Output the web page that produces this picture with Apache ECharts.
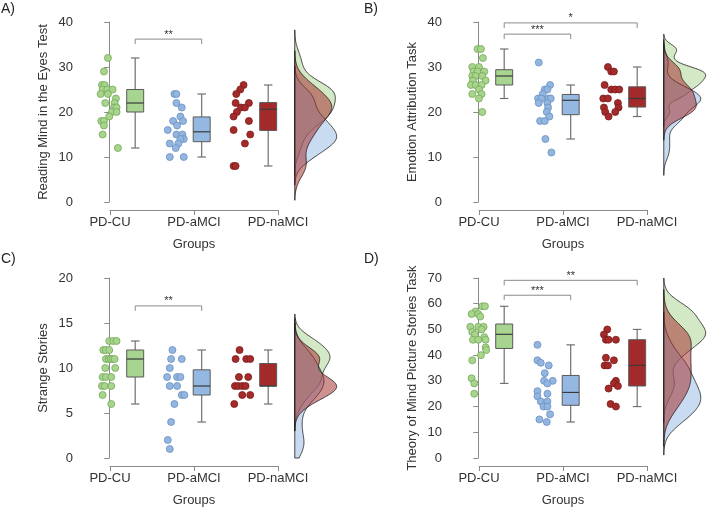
<!DOCTYPE html>
<html>
<head>
<meta charset="utf-8">
<script src="https://cdn.jsdelivr.net/npm/echarts@6/dist/echarts.min.js"></script>
<style>
  html, body { margin: 0; padding: 0; background: #fff; }
  #chart { width: 708px; height: 511px; }
</style>
</head>
<body>
<div id="chart"></div>
<script>
// groups on the x axis
const groups = ['PD-CU', 'PD-aMCI', 'PD-naMCI'];

// individual scores as [value, horizontal jitter]
const rmetCU = [[32,-0.02],[29,-0.08],[26,-0.11],[26,-0.07],[25,-0.10],[25,-0.03],[25,0.05],[24,-0.13],[24,-0.02],[23,0.10],[22,-0.06],[22,0.08],[21,0.07],[21,0.11],[20,0.04],[20,0.11],[19,0.00],[18,-0.12],[18,-0.08],[17,-0.08],[15,-0.10],[12,0.13]];
const rmetAM = [[24,-0.02],[24,0.01],[22,0.01],[21,0.09],[19,0.07],[18,-0.04],[18,0.11],[17,0.02],[16,-0.12],[15,0.01],[15,0.10],[14,0.12],[14,0.07],[13,-0.09],[13,0.04],[12,0.00],[10,-0.09],[10,0.12]];
const rmetNA = [[26,0.02],[25,-0.03],[24,-0.09],[22,-0.10],[22,0.10],[21,-0.02],[21,0.04],[20,-0.08],[19,-0.13],[18,0.10],[16,-0.13],[15,0.12],[13,0.04],[8,-0.13],[8,-0.10]];

const eatCU = [[34,-0.01],[34,0.04],[32,0.07],[30,-0.09],[30,0.01],[29,-0.07],[29,-0.01],[29,0.09],[28,-0.09],[28,-0.04],[28,0.06],[27,-0.08],[27,0.11],[26,-0.11],[26,-0.04],[26,0.05],[25,0.01],[24,-0.09],[24,0.05],[23,0.01],[20,0.06]];
const eatAM = [[31,-0.09],[26,0.08],[25,0.00],[25,0.04],[24,-0.03],[23,-0.10],[23,-0.05],[23,0.06],[23,0.09],[22,-0.09],[22,0.04],[21,0.05],[20,0.03],[19,0.07],[18,-0.07],[18,0.00],[14,0.01],[11,0.10]];
const eatNA = [[30,-0.05],[29,0.00],[29,0.04],[26,-0.10],[25,0.00],[25,0.06],[25,0.12],[23,-0.12],[23,-0.05],[22,0.10],[21,-0.11],[21,0.11],[20,-0.09],[20,0.06],[19,-0.04]];

const ssCU = [[13,0.00],[13,0.06],[13,0.11],[12,-0.09],[12,-0.05],[12,0.00],[11,-0.05],[11,-0.01],[11,0.02],[11,0.05],[11,0.08],[10,-0.06],[10,0.09],[9,-0.10],[9,-0.05],[9,0.03],[8,-0.11],[8,-0.07],[8,0.03],[7,-0.10],[6,0.03]];
const ssAM = [[12,-0.05],[11,-0.07],[11,0.09],[10,-0.09],[9,-0.13],[9,0.02],[9,0.07],[8,-0.09],[8,0.02],[7,0.09],[7,0.13],[6,-0.02],[4,-0.07],[2,-0.12],[1,-0.09]];
const ssNA = [[12,-0.04],[11,-0.10],[11,0.06],[11,0.12],[9,-0.05],[9,0.09],[8,-0.11],[8,-0.06],[8,0.00],[8,0.05],[7,0.00],[7,0.12],[6,-0.12]];

const tomCU = [[59,0.06],[59,0.10],[57,-0.04],[56,-0.10],[56,0.00],[55,0.03],[51,-0.12],[51,0.00],[51,0.08],[50,0.05],[49,-0.09],[48,-0.05],[47,0.09],[46,-0.08],[46,0.00],[46,0.11],[43,0.11],[42,0.12],[40,0.04],[38,-0.09],[31,-0.10],[29,-0.06],[25,-0.06]];
const tomAM = [[44,-0.11],[38,-0.11],[37,-0.06],[36,0.06],[33,0.00],[30,-0.01],[30,0.12],[29,0.04],[26,-0.11],[25,0.04],[24,-0.11],[22,-0.06],[22,0.04],[20,-0.02],[20,0.04],[17,0.08],[15,-0.08],[14,0.03]];
const tomNA = [[50,-0.06],[48,-0.11],[46,-0.08],[46,-0.04],[46,0.07],[39,-0.08],[38,0.04],[36,-0.10],[36,-0.05],[30,0.07],[29,0.04],[28,0.10],[27,-0.04],[21,-0.01],[20,0.07]];

// box stats [min, q1, median, q3, max]
const rmetBox = [[12,20,22,25,32],[10,13.4,15.6,18.9,24],[8,15.9,20.6,22.1,26]];
const eatBox = [[23,26,28,29.4,34],[14,19.4,22.6,23.9,26],[19,21.1,23,25.6,30]];
const ssBox = [[6,9,11,12,13],[4,7,8,9.8,12],[6,8,8,10.5,12]];
const tomBox = [[29,42.6,48.1,52.1,59],[14,20.5,25.5,32.1,44],[20,28,36,46,50]];

// significance brackets [fromGroup, toGroup, y, label]
const rmetSig = [[0,1,36.2,'**']];
const eatSig = [[0,1,37.3,'***'],[0,2,39.8,'*']];
const ssSig = [[0,1,16.9,'**']];
const tomSig = [[0,1,63.3,'***'],[0,2,69.1,'**']];

// y axes
const yNames = ['Reading Mind in the Eyes Test', 'Emotion Attribution Task', 'Strange Stories', 'Theory of Mind Picture Stories Task'];
const yMax = [40, 40, 20, 70];
const yStep = [10, 10, 5, 10];
const letters = ['A)', 'B)', 'C)', 'D)'];

const pointFill = ['#a8d48c', '#92b6e0', '#a52a2a'];
const pointLine = ['#74a95a', '#6b90c2', '#7c1c1c'];
const boxFill = ['#a7d48e', '#94b8e2', '#a32a2a'];
const densFill = ['rgba(167,212,142,0.5)', 'rgba(148,184,226,0.5)', 'rgba(163,42,42,0.52)'];

const FONT = 'Liberation Sans, Arial, sans-serif';
const TXT = '#333';
const AX = '#8a8a8a';

const BOX_OFF = 0.39, BOX_W = 0.255;
const DENS_BASE = 2.79, DENS_W = 0.63;

const panels = [
  {pts: [rmetCU, rmetAM, rmetNA], box: rmetBox, sig: rmetSig, left: 82, top: 22, tagX: 1, tagY: 2},
  {pts: [eatCU, eatAM, eatNA], box: eatBox, sig: eatSig, left: 451, top: 22, tagX: 364, tagY: 2},
  {pts: [ssCU, ssAM, ssNA], box: ssBox, sig: ssSig, left: 82, top: 278, tagX: 1, tagY: 252},
  {pts: [tomCU, tomAM, tomNA], box: tomBox, sig: tomSig, left: 451, top: 278, tagX: 364, tagY: 252}
];

function quant(s, p) {
  const h = (s.length - 1) * p, lo = Math.floor(h);
  const hi = Math.min(lo + 1, s.length - 1);
  return s[lo] + (h - lo) * (s[hi] - s[lo]);
}

// gaussian kernel density, R's default bandwidth (nrd0) and cut = 3
function density(vals, top) {
  const n = vals.length;
  const s = vals.slice().sort((a, b) => a - b);
  const mean = s.reduce((a, b) => a + b, 0) / n;
  const sd = Math.sqrt(s.reduce((a, b) => a + (b - mean) * (b - mean), 0) / (n - 1));
  const iqr = quant(s, 0.75) - quant(s, 0.25);
  const bw = 0.9 * Math.min(sd, iqr / 1.34) * Math.pow(n, -0.2);
  const lo = Math.max(0, s[0] - 3 * bw), hi = Math.min(top, s[n - 1] + 3 * bw);
  const out = [];
  for (let i = 0; i <= 160; i++) {
    const y = lo + (hi - lo) * i / 160;
    let d = 0;
    for (const v of s) { const z = (y - v) / bw; d += Math.exp(-0.5 * z * z); }
    out.push([y, d / (n * bw * Math.sqrt(2 * Math.PI))]);
  }
  return out;
}

const option = {
  animation: false,
  textStyle: {fontFamily: FONT},
  title: [], grid: [], xAxis: [], yAxis: [], series: []
};

panels.forEach((p, k) => {
  const gi = 2 * k;
  option.title.push({
    text: letters[k], left: p.tagX, top: p.tagY, padding: 0,
    textStyle: {fontSize: 14, fontWeight: 'normal', color: '#222', fontFamily: FONT}
  });
  option.grid.push({left: p.left, top: p.top, width: 256, height: 180});
  option.grid.push({left: p.left + 28, top: p.top + 187, width: 168, height: 1});

  option.xAxis.push({gridIndex: gi, type: 'value', min: -0.41, max: 3.44, show: false});
  option.xAxis.push({
    gridIndex: gi + 1, type: 'value', min: 0, max: 2, interval: 1,
    axisLine: {show: true, lineStyle: {color: AX, width: 1}},
    axisTick: {show: true, length: 5, lineStyle: {color: AX}},
    splitLine: {show: false},
    axisLabel: {formatter: v => groups[v], margin: 6, fontSize: 13, color: TXT, fontFamily: FONT},
    name: 'Groups', nameLocation: 'middle', nameGap: 28,
    nameTextStyle: {fontSize: 13, color: TXT, fontFamily: FONT}
  });
  option.yAxis.push({
    gridIndex: gi, type: 'value', min: 0, max: yMax[k], interval: yStep[k],
    axisLine: {show: true, lineStyle: {color: AX, width: 1}},
    axisTick: {show: true, length: 5, lineStyle: {color: AX}},
    splitLine: {show: false},
    axisLabel: {margin: 9, fontSize: 13, color: TXT, fontFamily: FONT},
    name: yNames[k], nameLocation: 'middle', nameGap: 32,
    nameTextStyle: {fontSize: 13, color: TXT, fontFamily: FONT}
  });
  option.yAxis.push({gridIndex: gi + 1, type: 'value', min: 0, max: 1, show: false});

  // densities (half violins on the right)
  const curves = p.pts.map(g => density(g.map(d => d[0]), yMax[k]));
  const peak = Math.max(...curves.map(c => Math.max(...c.map(d => d[1]))));
  option.series.push({
    type: 'custom', xAxisIndex: gi, yAxisIndex: gi, z: 2,
    data: [[0], [1], [2]],
    renderItem: (params, api) => {
      const c = curves[params.dataIndex];
      const pts = [api.coord([DENS_BASE, c[0][0]])];
      c.forEach(d => pts.push(api.coord([DENS_BASE + d[1] / peak * DENS_W, d[0]])));
      pts.push(api.coord([DENS_BASE, c[c.length - 1][0]]));
      return {type: 'polygon', shape: {points: pts},
        style: {fill: densFill[params.dataIndex], stroke: '#1a1a1a', lineWidth: 0.8}};
    }
  });

  // box plots
  option.series.push({
    type: 'custom', xAxisIndex: gi, yAxisIndex: gi, z: 3,
    data: p.box.map((b, i) => [i + BOX_OFF].concat(b)),
    renderItem: (params, api) => {
      const x = api.value(0);
      const w = api.size([BOX_W, 0])[0];
      const lo = api.coord([x, api.value(1)]), q1 = api.coord([x, api.value(2)]);
      const md = api.coord([x, api.value(3)]), q3 = api.coord([x, api.value(4)]);
      const hi = api.coord([x, api.value(5)]);
      const cx = lo[0], ln = {stroke: '#707070', lineWidth: 1.2};
      return {type: 'group', children: [
        {type: 'line', shape: {x1: cx, y1: hi[1], x2: cx, y2: lo[1]}, style: ln},
        {type: 'line', shape: {x1: cx - w / 4, y1: hi[1], x2: cx + w / 4, y2: hi[1]}, style: ln},
        {type: 'line', shape: {x1: cx - w / 4, y1: lo[1], x2: cx + w / 4, y2: lo[1]}, style: ln},
        {type: 'rect', shape: {x: cx - w / 2, y: q3[1], width: w, height: q1[1] - q3[1]},
          style: {fill: boxFill[params.dataIndex], stroke: '#5a5a5a', lineWidth: 1}},
        {type: 'line', shape: {x1: cx - w / 2, y1: md[1], x2: cx + w / 2, y2: md[1]},
          style: {stroke: '#3a3a3a', lineWidth: 1.2}}
      ]};
    }
  });

  // jittered points
  p.pts.forEach((g, i) => {
    option.series.push({
      type: 'scatter', xAxisIndex: gi, yAxisIndex: gi, z: 4,
      symbolSize: 7,
      itemStyle: {color: pointFill[i], borderColor: pointLine[i], borderWidth: 0.8, opacity: 1},
      data: g.map(d => [i + d[1], d[0]])
    });
  });

  // significance brackets
  option.series.push({
    type: 'custom', xAxisIndex: gi, yAxisIndex: gi, z: 5,
    data: p.sig.map(s => [s[0] + BOX_OFF, s[1] + BOX_OFF, s[2], s[3]]),
    renderItem: (params, api) => {
      const a = api.coord([api.value(0), api.value(2)]);
      const b = api.coord([api.value(1), api.value(2)]);
      const lab = p.sig[params.dataIndex][3];
      return {type: 'group', children: [
        {type: 'polyline', shape: {points: [[a[0], a[1] + 5], a, b, [b[0], b[1] + 5]]},
          style: {stroke: '#8a8a8a', lineWidth: 1, fill: null}},
        {type: 'text', style: {text: lab, x: (a[0] + b[0]) / 2, y: a[1] + 1,
          align: 'center', verticalAlign: 'bottom', fontSize: 11, fontFamily: FONT, fill: '#333'}}
      ]};
    }
  });
});

const chart = echarts.init(document.getElementById('chart'), null, {renderer: 'canvas'});
chart.setOption(option);
</script>
</body>
</html>
